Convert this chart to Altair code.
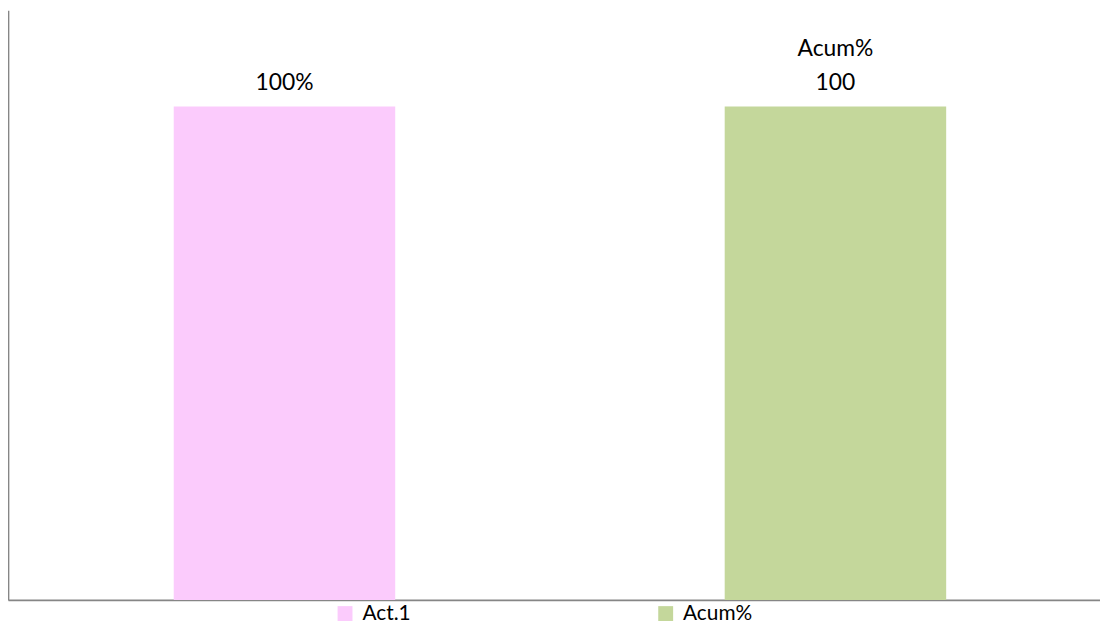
import altair as alt
import pandas as pd

categories = ["Act.1", "Acum%"]
values = [100, 100]
value_labels = ["100%", "100"]
series_labels = ["", "Acum%"]
colors = ["#FBCBFC", "#C4D79B"]

df = pd.DataFrame({"cat": categories, "val": values,
                   "vlab": value_labels, "slab": series_labels})

FONT = "Lato"

xscale = alt.Scale(paddingInner=0.598, paddingOuter=0.29)
yscale = alt.Scale(domain=[0, 119.5], nice=False)

x = alt.X("cat:N", sort=categories, scale=xscale, title=None)
y = alt.Y("val:Q", scale=yscale, title=None)

bars = alt.Chart(df).mark_bar(xOffset=6).encode(
    x=x, y=y,
    color=alt.Color("cat:N", sort=categories,
                    scale=alt.Scale(domain=categories, range=colors),
                    legend=alt.Legend(title=None, orient="none", direction="horizontal",
                                      legendX=329, legendY=597, symbolType="square",
                                      symbolSize=225, symbolStrokeWidth=0,
                                      labelFont=FONT, labelFontSize=21, labelColor="#000000",
                                      labelOffset=7, columnPadding=246, padding=0))
)

text_val = alt.Chart(df).mark_text(baseline="alphabetic", dy=-17, dx=6,
                                   font=FONT, fontSize=23, color="#000000").encode(
    x=alt.X("cat:N", sort=categories), y="val:Q", text="vlab:N"
)
text_ser = alt.Chart(df).mark_text(baseline="alphabetic", dy=-51, dx=6,
                                   font=FONT, fontSize=23, color="#000000").encode(
    x=alt.X("cat:N", sort=categories), y="val:Q", text="slab:N"
)

chart = (bars + text_val + text_ser).properties(
    width=1100, height=594, background="white",
    padding={"left": 0, "top": 0, "right": 0, "bottom": 23},
    autosize=alt.AutoSizeParams(type="none")
).configure_view(stroke=None).configure_axis(
    labels=False, ticks=False, grid=False, domain=True,
    domainColor="#868686", domainWidth=1.75
)

chart.save("out.html", embed_options={"renderer": "svg", "actions": False})
